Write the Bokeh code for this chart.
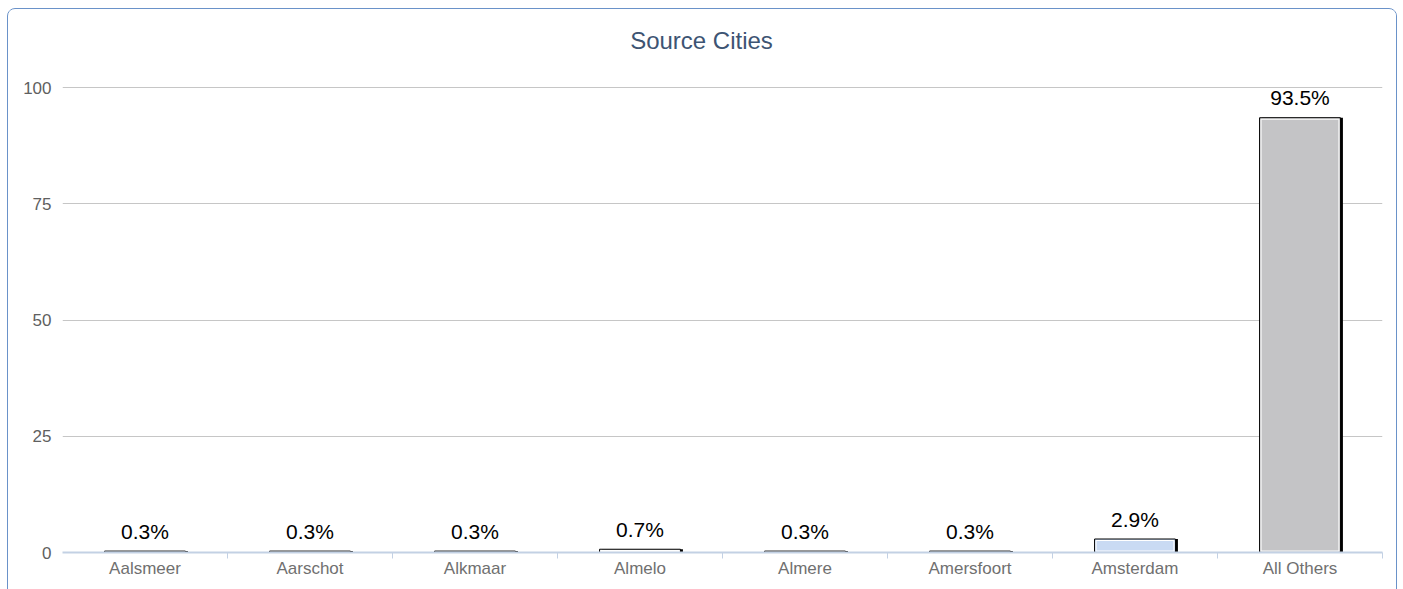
from bokeh.plotting import figure
from bokeh.models import ColumnDataSource, Range1d, FixedTicker, Label
from bokeh.core.properties import value
from bokeh.embed import file_html
from bokeh.resources import INLINE

# Source city shares (percent of traffic)
cities = ["Aalsmeer", "Aarschot", "Alkmaar", "Almelo", "Almere",
          "Amersfoort", "Amsterdam", "All Others"]
shares = [0.3, 0.3, 0.3, 0.7, 0.3, 0.3, 2.9, 93.5]
bar_colors = ["#dfe8f5", "#e8e8e8", "#dfe8f5", "#ffffff", "#e8e8e8",
              "#dfe8f5", "#c9daf3", "#c4c4c6"]
y_ticks = [0, 25, 50, 75, 100]
title_text = "Source Cities"

FONT = "Liberation Sans"

# panel placement on the page (rounded border drawn by CSS)
PANEL_X, PANEL_Y = 7, 8
W, H = 1390, 590
ORIGIN_X, ORIGIN_Y = PANEL_X + 1, PANEL_Y + 1
# frame placement inside the panel (frame reaches up to hold the title)
LEFT, RIGHT, TOP, BOTTOM = 54, 16, 20, 47
frame_w = W - LEFT - RIGHT
frame_h = H - TOP - BOTTOM
PX_PER_UNIT = 4.65                    # vertical pixels per percent
Y_MAX = frame_h / PX_PER_UNIT

n = len(cities)
px_x = n / frame_w          # x data units per pixel
px_y = 1 / PX_PER_UNIT      # y data units per pixel
bar_w = 0.49

centers = [i + 0.5 for i in range(n)]
labels = [f"{v:.1f}%" for v in shares]
inset_x = 1.5 * px_x
inset_y = 1.5 * px_y

src = ColumnDataSource(dict(
    x=centers,
    xs=[c + 2.5 * px_x for c in centers],
    top=shares,
    inner_top=[max(v - inset_y, inset_y) for v in shares],
    inner_alpha=[1.0 if v > 3 * inset_y else 0.0 for v in shares],
    color=bar_colors,
    label=labels,
))

p = figure(width=W, height=H, output_backend="svg", toolbar_location=None,
           x_range=Range1d(0, n), y_range=Range1d(0, Y_MAX),
           min_border_left=LEFT, min_border_right=RIGHT,
           min_border_top=TOP, min_border_bottom=BOTTOM,
           outline_line_color=None, background_fill_color="white",
           border_fill_color="white")
p.margin = (PANEL_Y, 0, 0, PANEL_X)
p.styles = {"border": "1px solid #6a92c9", "border-radius": "8px",
            "box-sizing": "border-box", "overflow": "hidden"}

# title, centred on the panel
page_mid = PANEL_X + (W - 2) / 2
frame_x0 = ORIGIN_X + LEFT
frame_y1 = ORIGIN_Y + H - BOTTOM
title_x = (page_mid - frame_x0) * px_x
title_y = (frame_y1 - 40) * px_y
p.add_layout(Label(x=title_x, y=title_y, text=title_text,
                   text_align="center", text_baseline="alphabetic",
                   text_font=FONT, text_font_size="24px",
                   text_color="#3d5473"))

# bars: drop shadow, body with black edge, inner white rim
p.vbar(x="xs", top="top", bottom=0, width=bar_w, source=src,
       fill_color="black", line_color=None)
p.vbar(x="x", top="top", bottom=0, width=bar_w, source=src,
       fill_color="color", line_color="black", line_width=1)
p.vbar(x="x", top="inner_top", bottom=inset_y, width=bar_w - 2 * inset_x,
       source=src, fill_color=None, line_color="white", line_width=1,
       line_alpha="inner_alpha")

# value labels
p.text(x="x", y="top", text="label", source=src, text_align="center",
       text_baseline="alphabetic", y_offset=-20,
       text_font=value(FONT), text_font_size="21px", text_color="black")

# x axis: city names at band centres, ticks at band edges
xa = p.xaxis[0]
xa.ticker = FixedTicker(ticks=centers, minor_ticks=list(range(1, n + 1)))
xa.major_label_overrides = {c: name for c, name in zip(centers, cities)}
xa.major_tick_line_color = None
xa.major_tick_in = 0
xa.major_tick_out = 0
xa.minor_tick_line_color = "#c3d1e4"
xa.minor_tick_in = 0
xa.minor_tick_out = 6
xa.axis_line_color = "#c3d1e4"
xa.axis_line_width = 2
xa.major_label_standoff = 0
xa.major_label_text_font = FONT
xa.major_label_text_font_size = "17px"
xa.major_label_text_color = "#707070"

ya = p.yaxis[0]
ya.ticker = FixedTicker(ticks=y_ticks)
ya.axis_line_color = None
ya.major_tick_line_color = None
ya.major_tick_in = 0
ya.major_tick_out = 0
ya.minor_tick_line_color = None
ya.major_label_standoff = 11
ya.major_label_text_font = FONT
ya.major_label_text_font_size = "17px"
ya.major_label_text_color = "#606060"

p.xgrid.grid_line_color = None
p.ygrid.grid_line_color = "#c6c6c6"
p.ygrid.grid_line_width = 1

open("out.html", "w").write(file_html(p, INLINE))
